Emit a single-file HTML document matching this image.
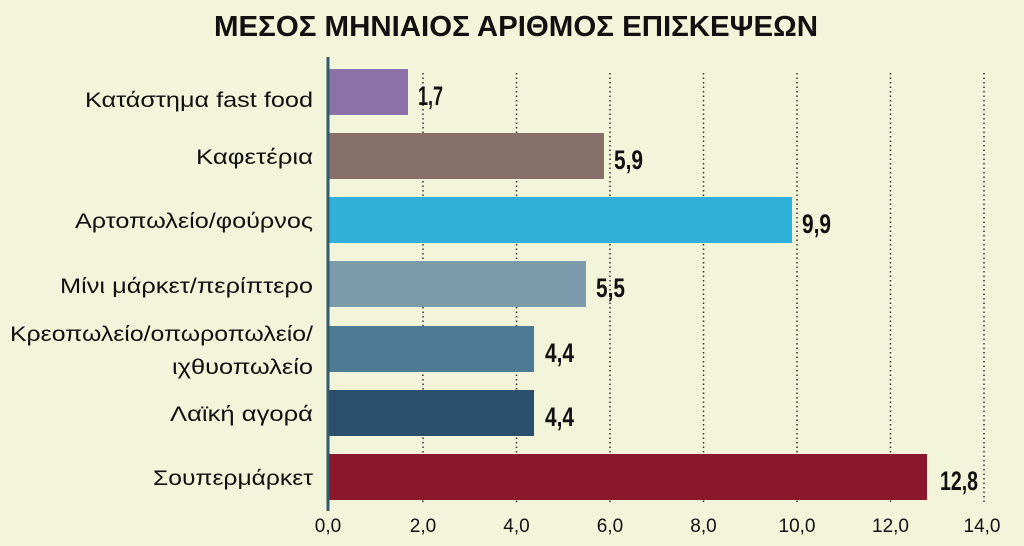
<!DOCTYPE html>
<html><head><meta charset="utf-8"><style>
body{margin:0;background:#f3f5da;}
svg{display:block}
text{font-family:"Liberation Sans","DejaVu Sans",sans-serif}
</style></head><body>
<svg width="1024" height="546" xmlns="http://www.w3.org/2000/svg">
<rect width="1024" height="546" fill="#f3f5da"/>
<text x="516" y="36" text-anchor="middle" font-size="29" font-weight="bold" fill="#111" textLength="604" lengthAdjust="spacingAndGlyphs">ΜΕΣΟΣ ΜΗΝΙΑΙΟΣ ΑΡΙΘΜΟΣ ΕΠΙΣΚΕΨΕΩΝ</text>
<g stroke="#333" stroke-width="1.5" stroke-dasharray="1.5,3">
<line x1="423" y1="73" x2="423" y2="505"/><line x1="516.5" y1="73" x2="516.5" y2="505"/>
<line x1="610" y1="73" x2="610" y2="505"/><line x1="703.5" y1="73" x2="703.5" y2="505"/>
<line x1="797" y1="73" x2="797" y2="505"/><line x1="890.5" y1="73" x2="890.5" y2="505"/>
<line x1="984" y1="73" x2="984" y2="505"/>
</g>
<g>
<rect x="329" y="69" width="79" height="46" fill="#8c72a6"/>
<rect x="329" y="133" width="275" height="46" fill="#877069"/>
<rect x="329" y="197" width="463" height="46" fill="#2fb0d9"/>
<rect x="329" y="261" width="257" height="46" fill="#7c9cad"/>
<rect x="329" y="326" width="205" height="46" fill="#4d7b94"/>
<rect x="329" y="390" width="205" height="46" fill="#2b4f6c"/>
<rect x="329" y="454" width="598" height="46" fill="#8a172c"/>
</g>
<line x1="328" y1="57" x2="328" y2="511" stroke="#2f5a6e" stroke-width="3"/>
<g font-size="21" fill="#111" lengthAdjust="spacingAndGlyphs">
<text x="85" y="107" textLength="228" lengthAdjust="spacingAndGlyphs">Κατάστημα fast food</text>
<text x="196" y="164" textLength="117" lengthAdjust="spacingAndGlyphs">Καφετέρια</text>
<text x="75" y="228" textLength="238" lengthAdjust="spacingAndGlyphs">Αρτοπωλείο/φούρνος</text>
<text x="60" y="293" textLength="253" lengthAdjust="spacingAndGlyphs">Μίνι μάρκετ/περίπτερο</text>
<text x="10" y="341" textLength="303" lengthAdjust="spacingAndGlyphs">Κρεοπωλείο/οπωροπωλείο/</text>
<text x="172" y="374" textLength="141" lengthAdjust="spacingAndGlyphs">ιχθυοπωλείο</text>
<text x="170" y="421" textLength="143" lengthAdjust="spacingAndGlyphs">Λαϊκή αγορά</text>
<text x="153" y="485" textLength="160" lengthAdjust="spacingAndGlyphs">Σουπερμάρκετ</text>
</g>
<g font-size="27" font-weight="bold" fill="#111">
<text x="418" y="105" textLength="25" lengthAdjust="spacingAndGlyphs">1,7</text>
<text x="614" y="169" textLength="29" lengthAdjust="spacingAndGlyphs">5,9</text>
<text x="802" y="233" textLength="29" lengthAdjust="spacingAndGlyphs">9,9</text>
<text x="596" y="297" textLength="29" lengthAdjust="spacingAndGlyphs">5,5</text>
<text x="545" y="362" textLength="29" lengthAdjust="spacingAndGlyphs">4,4</text>
<text x="545" y="426" textLength="29" lengthAdjust="spacingAndGlyphs">4,4</text>
<text x="940" y="490" textLength="38" lengthAdjust="spacingAndGlyphs">12,8</text>
</g>
<g font-size="19" fill="#111" text-anchor="middle">
<text x="328" y="532">0,0</text><text x="423" y="532">2,0</text>
<text x="516.5" y="532">4,0</text><text x="610" y="532">6,0</text>
<text x="703.5" y="532">8,0</text><text x="797" y="532">10,0</text>
<text x="890.5" y="532">12,0</text><text x="982" y="532">14,0</text>
</g>
</svg>
</body></html>
